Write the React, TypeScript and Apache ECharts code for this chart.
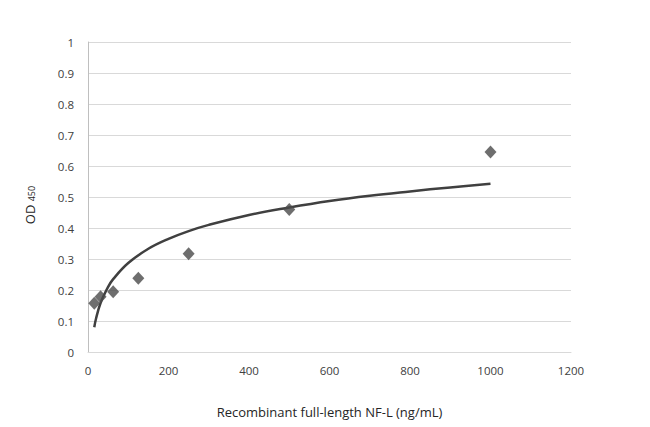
import React, { useEffect, useRef } from "react";
import * as echarts from "echarts";

// Measured standards (concentration ng/mL, OD450)
const concentrations = [15.6, 31.25, 62.5, 125, 250, 500, 1000];
const odValues = [0.157, 0.178, 0.194, 0.238, 0.317, 0.46, 0.645];

// Trendline (concentration, OD450)
const trendX = [15.6, 20, 31.25, 50, 62.5, 100, 150, 200, 250, 300, 400, 500, 600, 700, 800, 900, 1000];
const trendY = [0.08, 0.108, 0.158, 0.21, 0.235, 0.287, 0.333, 0.365, 0.39, 0.41, 0.442, 0.466, 0.487, 0.504, 0.518, 0.531, 0.543];

const yTicks = [0, 0.1, 0.2, 0.3, 0.4, 0.5, 0.6, 0.7, 0.8, 0.9, 1];

export default function App() {
  const ref = useRef<HTMLDivElement>(null);
  useEffect(() => {
    if (!ref.current) return;
    const chart = echarts.init(ref.current, null, { renderer: "svg" });
    const font = "'Open Sans', 'Liberation Sans', sans-serif";
    chart.setOption({
      animation: false,
      backgroundColor: "#ffffff",
      grid: { left: 88, right: 79, top: 42, bottom: 75, containLabel: false },
      xAxis: {
        type: "value",
        min: 0,
        max: 1200,
        interval: 200,
        name: "Recombinant full-length NF-L (ng/mL)",
        nameLocation: "middle",
        nameGap: 53,
        nameTextStyle: { fontFamily: font, fontSize: 13, color: "#262626" },
        axisLine: { show: true, lineStyle: { color: "#d9d9d9", width: 1 } },
        axisTick: { show: false },
        splitLine: { show: false },
        axisLabel: {
          fontFamily: font,
          fontSize: 11.5,
          color: "#404040",
          margin: 12,
          formatter: (v: number) => String(v),
        },
      },
      yAxis: {
        type: "value",
        min: 0,
        max: 1,
        interval: 0.1,
        name: "{a|OD} {b|450}",
        nameLocation: "middle",
        nameGap: 52,
        nameRotate: 90,
        nameTextStyle: {
          padding: [0, 16, 0, 0],
          rich: {
            a: { fontFamily: font, fontSize: 13, color: "#262626" },
            b: { fontFamily: font, fontSize: 9, color: "#262626", padding: [4, 0, 0, 0] },
          },
        },
        axisLine: { show: true, lineStyle: { color: "#bfbfbf", width: 1 } },
        axisTick: { show: false },
        splitLine: { show: true, lineStyle: { color: "#d9d9d9", width: 1 } },
        axisLabel: {
          fontFamily: font,
          fontSize: 11.5,
          color: "#404040",
          margin: 14,
          formatter: (v: number) => {
            const t = yTicks.find((k) => Math.abs(k - v) < 1e-9);
            return t === undefined ? "" : String(Number(t.toFixed(1)));
          },
        },
      },
      series: [
        {
          type: "line",
          data: trendX.map((x, i) => [x, trendY[i]]),
          smooth: 0.4,
          showSymbol: false,
          symbol: "none",
          lineStyle: { color: "#404040", width: 2.5 },
          z: 2,
        },
        {
          type: "scatter",
          data: concentrations.map((x, i) => [x, odValues[i]]),
          symbol: "diamond",
          symbolSize: [12, 13],
          itemStyle: { color: "#4a4a4a" },
          z: 3,
        },
      ],
    });
    return () => chart.dispose();
  }, []);
  return (
    <div
      ref={ref}
      style={{ position: "fixed", left: 0, top: 0, width: 650, height: 427 }}
    />
  );
}
